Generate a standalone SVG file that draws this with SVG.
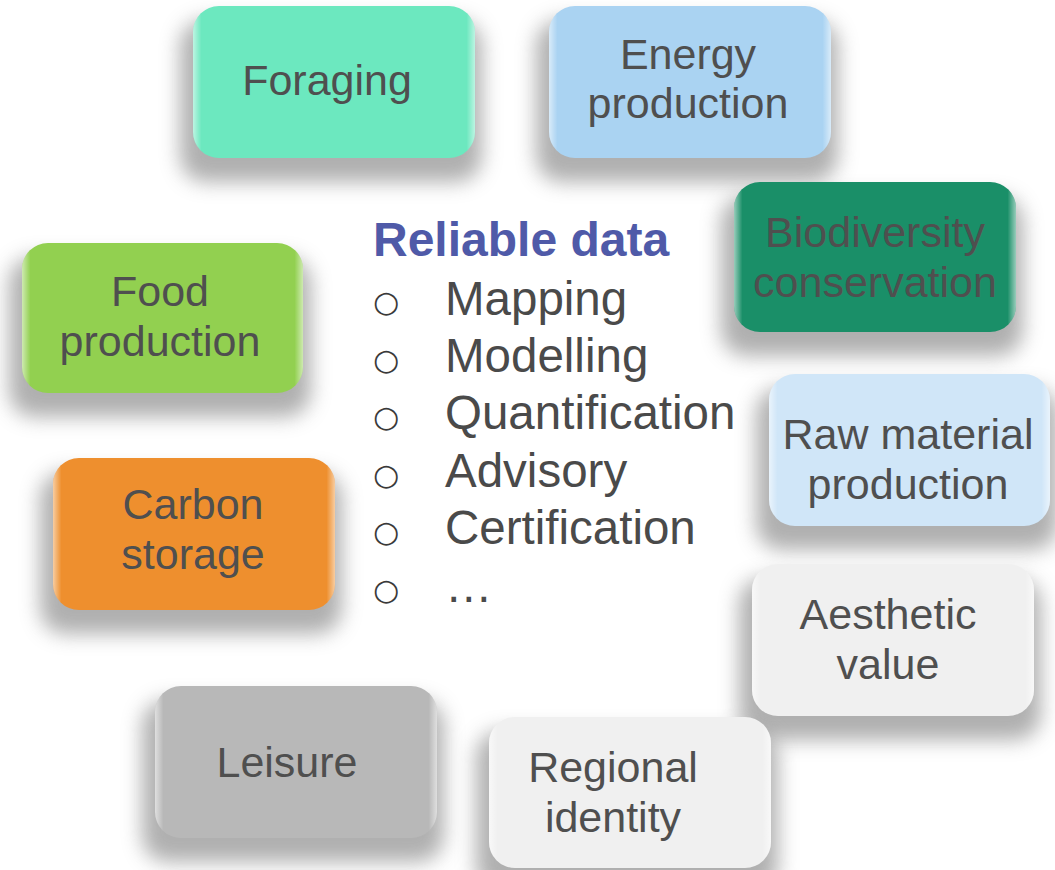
<svg xmlns="http://www.w3.org/2000/svg" width="1055" height="870" viewBox="0 0 1055 870">
<defs>
<filter id="sh" x="-30%" y="-30%" width="160%" height="170%">
<feGaussianBlur stdDeviation="10"/>
</filter>
<linearGradient id="gloss" x1="0" y1="0" x2="1" y2="0">
<stop offset="0" stop-color="#fff" stop-opacity="0.55"/>
<stop offset="0.03" stop-color="#fff" stop-opacity="0"/>
<stop offset="0.97" stop-color="#fff" stop-opacity="0"/>
<stop offset="1" stop-color="#fff" stop-opacity="0.55"/>
</linearGradient>
</defs>
<style>
.shadow{fill:#8e8e8e;opacity:0.7;filter:url(#sh)}
.gl{fill:url(#gloss)}
.lbl{font-family:"Liberation Sans",Arial,sans-serif;font-size:43px;fill:#4f4f4f;text-anchor:middle}
.head{font-family:"Liberation Sans",Arial,sans-serif;font-size:48px;font-weight:bold;fill:#4f5aa8}
.item{font-family:"Liberation Sans",Arial,sans-serif;font-size:47.5px;fill:#4a4a4a}
.bul{font-family:"DejaVu Sans",sans-serif;font-size:30px;fill:#3a3a3a}
</style>

<g id="shadows">
<rect class="shadow" x="180" y="20" width="302" height="162" rx="26"/>
<rect class="shadow" x="536" y="20" width="302" height="162" rx="26"/>
<rect class="shadow" x="721" y="196" width="302" height="160" rx="26"/>
<rect class="shadow" x="9" y="257" width="302" height="160" rx="26"/>
<rect class="shadow" x="756" y="388" width="302" height="162" rx="26"/>
<rect class="shadow" x="40" y="472" width="302" height="162" rx="26"/>
<rect class="shadow" x="739" y="578" width="302" height="162" rx="26"/>
<rect class="shadow" x="142" y="700" width="302" height="162" rx="26"/>
<rect class="shadow" x="476" y="731" width="302" height="162" rx="26"/>
</g>

<g id="foraging">
<rect x="193" y="6" width="282" height="152" rx="26" fill="#6ce8bf"/>
<rect class="gl" x="193" y="6" width="282" height="152" rx="26"/>
<text class="lbl" x="327" y="95">Foraging</text>
</g>

<g id="energy">
<rect x="549" y="6" width="282" height="152" rx="26" fill="#aad3f2"/>
<rect class="gl" x="549" y="6" width="282" height="152" rx="26"/>
<text class="lbl" x="688" y="69">Energy</text>
<text class="lbl" x="688" y="118">production</text>
</g>

<g id="biodiversity">
<rect x="734" y="182" width="282" height="150" rx="26" fill="#1a8f68"/>
<rect class="gl" x="734" y="182" width="282" height="150" rx="26"/>
<text class="lbl" x="875" y="247">Biodiversity</text>
<text class="lbl" x="875" y="297">conservation</text>
</g>

<g id="food">
<rect x="22" y="243" width="281" height="150" rx="26" fill="#92d050"/>
<rect class="gl" x="22" y="243" width="281" height="150" rx="26"/>
<text class="lbl" x="160" y="306">Food</text>
<text class="lbl" x="160" y="356">production</text>
</g>

<g id="raw">
<rect x="769" y="374" width="281" height="152" rx="26" fill="#d0e6f8"/>
<rect class="gl" x="769" y="374" width="281" height="152" rx="26"/>
<text class="lbl" x="908" y="449">Raw material</text>
<text class="lbl" x="908" y="499">production</text>
</g>

<g id="carbon">
<rect x="53" y="458" width="282" height="152" rx="26" fill="#ee8f2e"/>
<rect class="gl" x="53" y="458" width="282" height="152" rx="26"/>
<text class="lbl" x="193" y="519">Carbon</text>
<text class="lbl" x="193" y="569">storage</text>
</g>

<g id="aesthetic">
<rect x="752" y="564" width="282" height="152" rx="26" fill="#f0f0f0"/>
<rect class="gl" x="752" y="564" width="282" height="152" rx="26"/>
<text class="lbl" x="888" y="629">Aesthetic</text>
<text class="lbl" x="888" y="679">value</text>
</g>

<g id="leisure">
<rect x="155" y="686" width="282" height="152" rx="26" fill="#b8b8b8"/>
<rect class="gl" x="155" y="686" width="282" height="152" rx="26"/>
<text class="lbl" x="287" y="777">Leisure</text>
</g>

<g id="regional">
<rect x="489" y="717" width="282" height="151" rx="26" fill="#f0f0f0"/>
<rect class="gl" x="489" y="717" width="282" height="151" rx="26"/>
<text class="lbl" x="613" y="782">Regional</text>
<text class="lbl" x="613" y="832">identity</text>
</g>

<g id="reliable-data">
<text class="head" x="373" y="256">Reliable data</text>
<text class="bul" x="373" y="312">○</text>
<text class="bul" x="373" y="370">○</text>
<text class="bul" x="373" y="427">○</text>
<text class="bul" x="373" y="485">○</text>
<text class="bul" x="373" y="542">○</text>
<text class="bul" x="373" y="600">○</text>
<text class="item" x="445" y="315">Mapping</text>
<text class="item" x="445" y="372">Modelling</text>
<text class="item" x="445" y="429">Quantification</text>
<text class="item" x="445" y="487">Advisory</text>
<text class="item" x="445" y="544">Certification</text>
<text class="item" x="445" y="602">…</text>
</g>
<g id="connectors"/>
</svg>
